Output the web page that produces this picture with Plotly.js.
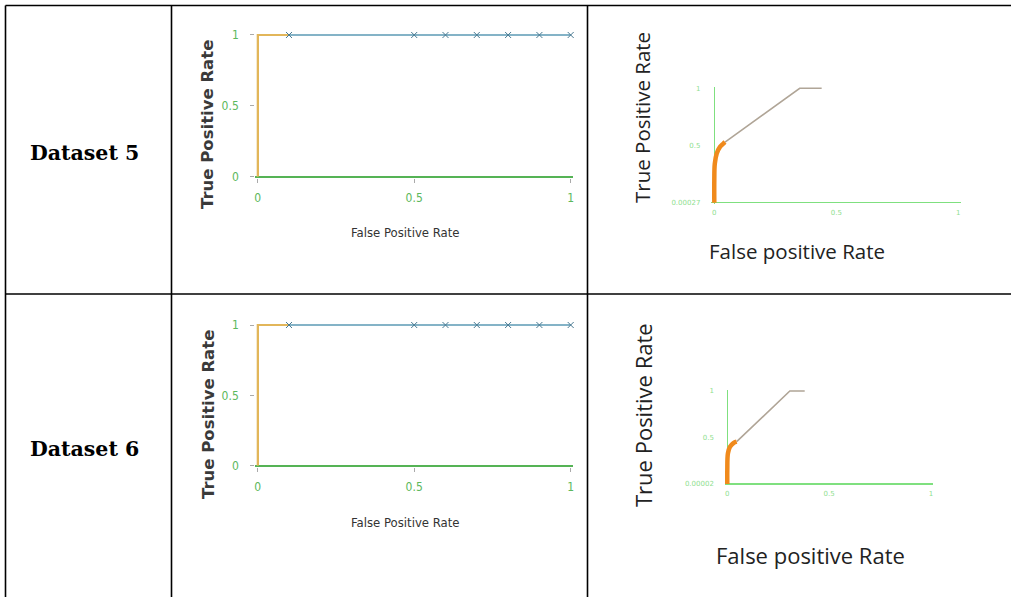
<!DOCTYPE html>
<html><head><meta charset="utf-8">
<script src="https://cdn.plot.ly/plotly-3.0.1.min.js"></script>
<style>html,body{margin:0;padding:0;background:#fff;}#chart{width:1011px;height:597px;}</style>
</head><body><div id="chart"></div>
<script>
// ---------- data ----------
const rowLabels = ["Dataset 5", "Dataset 6"];
// Left ROC (both datasets)
const leftOrangeFpr = [0, 0, 0.1];
const leftOrangeTpr = [0, 1, 1];
const leftBlueFpr = [0.1, 0.5, 0.6, 0.7, 0.8, 0.9, 1.0];
const leftBlueTpr = [1, 1, 1, 1, 1, 1, 1];
// Right ROC dataset 5
const r5OrangeFpr = [0, 0, 0.002, 0.01, 0.024, 0.036, 0.044];
const r5OrangeTpr = [0, 0.2, 0.34, 0.43, 0.49, 0.515, 0.53];
const r5GreyFpr = [0.044, 0.35, 0.44];
const r5GreyTpr = [0.53, 1, 1];
const r5YTickText = ["0.00027", "0.5", "1"];
// Right ROC dataset 6
const r6OrangeFpr = [0, 0, 0.003, 0.013, 0.03, 0.046];
const r6OrangeTpr = [0, 0.15, 0.33, 0.40, 0.44, 0.455];
const r6GreyFpr = [0.046, 0.307, 0.38];
const r6GreyTpr = [0.455, 1, 1];
const r6YTickText = ["0.00002", "0.5", "1"];
const tickVals = [0, 0.5, 1];
const xTickText = ["0", "0.5", "1"];
const leftYTitle = "True Positive Rate", leftXTitle = "False Positive Rate";
const rightYTitle = "True Positive Rate", rightXTitle = "False positive Rate";

// ---------- layout helpers ----------
const W = 1011, H = 597;
function xdom(x0, x1, P) { const s = x1 - x0; return [(x0 - P * s) / W, (x1 + P * s) / W]; }
function ydom(y0, y1, P) { const s = y0 - y1; return [1 - (y0 + P * s) / H, 1 - (y1 - P * s) / H]; }
const PL = 0.008, PR = 0.012;
const narrow = "Liberation Sans Narrow, DejaVu Sans Condensed, Arial Narrow, sans-serif";

function leftAxes(n, yd) {
  return [{
    domain: xdom(257.7, 570.7, PL), range: [-PL, 1 + PL], anchor: 'y' + n, showgrid: false, showline: false,
    zeroline: true, zerolinecolor: '#E2B65A', zerolinewidth: 2,
    tickvals: tickVals, ticktext: xTickText, ticks: 'outside', ticklen: 4, tickcolor: '#aaa',
    ticklabelstandoff: 5,
    tickfont: { family: narrow, size: 12, color: '#5cb85c' }
  }, {
    domain: yd, range: [-PL, 1 + PL], anchor: 'x' + n, showgrid: false, showline: false,
    zeroline: true, zerolinecolor: '#55b355', zerolinewidth: 2,
    tickvals: tickVals, ticktext: xTickText, ticks: 'outside', ticklen: 4, tickcolor: '#aaa',
    ticklabelstandoff: 9,
    tickfont: { family: narrow, size: 12, color: '#5cb85c' }
  }];
}
function rightAxes(n, xd, yd, ytt) {
  return [{
    domain: xd, range: [-PR, 1 + PR], anchor: 'y' + n, showgrid: false, showline: false,
    zeroline: true, zerolinecolor: '#7fe07f', zerolinewidth: 1.2,
    tickvals: tickVals, ticktext: xTickText, ticks: '', ticklabelstandoff: 3,
    tickfont: { family: "DejaVu Sans", size: 7, color: '#8fe08f' }
  }, {
    domain: yd, range: [-PR, 1 + PR], anchor: 'x' + n, showgrid: false, showline: false,
    zeroline: true, zerolinecolor: '#7fe07f', zerolinewidth: 1.2,
    tickvals: tickVals, ticktext: ytt, ticks: '', ticklabelstandoff: 10,
    tickfont: { family: "DejaVu Sans", size: 7, color: '#8fe08f' }
  }];
}

const [x1, y1] = leftAxes(1, ydom(176.7, 35, PL));
const [x2, y2] = rightAxes(2, xdom(714.3, 958.3, PR), ydom(202.7, 88.3, PR), r5YTickText);
const [x3, y3] = leftAxes(3, ydom(465.7, 325, PL));
const [x4, y4] = rightAxes(4, xdom(727.3, 931, PR), ydom(484, 391, PR), r6YTickText);

function leftTraces(n) {
  return [{
    x: leftOrangeFpr, y: leftOrangeTpr, xaxis: 'x' + n, yaxis: 'y' + n, mode: 'lines',
    line: { color: '#E2B65A', width: 2 }, hoverinfo: 'skip'
  }, {
    x: leftBlueFpr, y: leftBlueTpr, xaxis: 'x' + n, yaxis: 'y' + n, mode: 'lines+markers',
    line: { color: '#5b9ab5', width: 1.5 },
    marker: { symbol: 'x-thin', size: 6, line: { width: 1, color: '#4a7a92' }, color: '#4a7a92' },
    cliponaxis: false, hoverinfo: 'skip'
  }];
}
function rightTraces(n, ofx, ofy, gfx, gfy) {
  return [{
    x: gfx, y: gfy, xaxis: 'x' + n, yaxis: 'y' + n, mode: 'lines',
    line: { color: '#b0a597', width: 1.6 }, hoverinfo: 'skip'
  }, {
    x: ofx, y: ofy, xaxis: 'x' + n, yaxis: 'y' + n, mode: 'lines',
    line: { color: '#f08a1c', width: 4.5, shape: 'spline' }, hoverinfo: 'skip'
  }];
}

const data = [].concat(
  leftTraces(1), rightTraces(2, r5OrangeFpr, r5OrangeTpr, r5GreyFpr, r5GreyTpr),
  leftTraces(3), rightTraces(4, r6OrangeFpr, r6OrangeTpr, r6GreyFpr, r6GreyTpr)
);

function px(x) { return x / W; }
function py(y) { return 1 - y / H; }
function line(xa, ya, xb, yb) {
  return { type: 'line', xref: 'paper', yref: 'paper', x0: px(xa), y0: py(ya), x1: px(xb), y1: py(yb),
    line: { color: '#000', width: 1.6 } };
}
const shapes = [
  line(5.5, 5.5, 1011, 5.5),
  line(5.5, 294, 1011, 294),
  line(5.5, 5.5, 5.5, 597),
  line(171.5, 5.5, 171.5, 597),
  line(587.5, 5.5, 587.5, 597)
];

function ann(text, x, y, font, angle) {
  return { text: text, xref: 'paper', yref: 'paper', x: px(x), y: py(y), xanchor: 'center', yanchor: 'middle',
    showarrow: false, font: font, textangle: angle || 0 };
}
const labelFont = { family: "DejaVu Serif, Liberation Serif, serif", size: 20.5, color: '#000', weight: 'bold' };
const leftYFont = { family: "DejaVu Sans", size: 16.5, color: '#3a3a3a', weight: 'bold' };
const leftXFont = { family: narrow, size: 13, color: '#333' };
const rightFont5 = { family: "Open Sans", size: 20.5, color: '#222' };
const rightFont6 = { family: "Open Sans", size: 22, color: '#222' };
const annotations = [
  ann('<b>' + rowLabels[0] + '</b>', 84, 153, labelFont),
  ann('<b>' + rowLabels[1] + '</b>', 84, 449, labelFont),
  ann(leftYTitle, 208, 125, leftYFont, -90),
  ann(leftXTitle, 405, 232, leftXFont),
  ann(leftYTitle, 208, 415, leftYFont, -90),
  ann(leftXTitle, 405, 522, leftXFont),
  ann(rightYTitle, 642, 118, rightFont5, -90),
  ann(rightXTitle, 797, 251, rightFont5),
  ann(rightYTitle, 643, 415, rightFont6, -90),
  ann(rightXTitle, 810, 555, rightFont6)
];

const layout = {
  width: W, height: H, margin: { l: 0, r: 0, t: 0, b: 0 },
  paper_bgcolor: '#fff', plot_bgcolor: 'rgba(0,0,0,0)', showlegend: false,
  xaxis: x1, yaxis: y1, xaxis2: x2, yaxis2: y2, xaxis3: x3, yaxis3: y3, xaxis4: x4, yaxis4: y4,
  shapes: shapes, annotations: annotations
};
Plotly.newPlot('chart', data, layout, { staticPlot: true, displayModeBar: false });
</script>
</body></html>
